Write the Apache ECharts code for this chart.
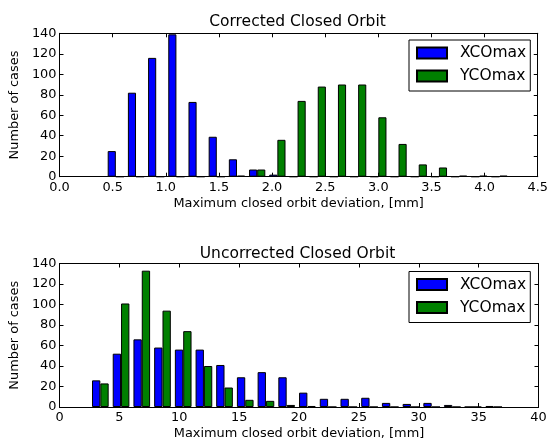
<!DOCTYPE html>
<html>
<head>
<meta charset="utf-8">
<script src="https://cdn.jsdelivr.net/npm/echarts@6/dist/echarts.min.js"></script>
<style>
html,body{margin:0;padding:0;background:#fff;}
#c{width:551px;height:441px;}
</style>
</head>
<body>
<div id="c"></div>
<script>
// ---- data ----
const seriesNames = ['XCOmax', 'YCOmax'];

// Corrected closed orbit (bin centres in mm)
const topBinCenters = [0.53, 0.72, 0.91, 1.10, 1.29, 1.48, 1.67, 1.86, 2.05, 2.24,
                       2.43, 2.62, 2.81, 3.00, 3.19, 3.38, 3.57, 3.76, 3.95, 4.14];
const topXCO = [25, 82, 116, 139, 73, 39, 17, 7, 2, 0, 0, 0, 0, 0, 0, 0, 0, 0, 0, 0];
const topYCO = [0, 0, 0, 0, 0, 0, 1, 7, 36, 74, 88, 90, 90, 58, 32, 12, 9, 1, 1, 1];

// Uncorrected closed orbit (bin centres in mm)
const botBinCenters = [3.41, 5.14, 6.87, 8.60, 10.33, 12.06, 13.78, 15.51, 17.24, 18.97,
                       20.70, 22.43, 24.16, 25.89, 27.62, 29.35, 31.08, 32.80, 34.53, 36.26];
const botXCO = [26, 52, 66, 58, 56, 56, 41, 29, 34, 29, 14, 8, 8, 9, 4, 3, 4, 2, 0, 1];
const botYCO = [23, 101, 133, 94, 74, 40, 19, 7, 6, 2, 1, 0, 0, 0, 0, 0, 0, 0, 0, 0];

const titles = ['Corrected Closed Orbit', 'Uncorrected Closed Orbit'];
const xAxisName = 'Maximum closed orbit deviation, [mm]';
const yAxisName = 'Number of cases';
const topXTicks = {min: 0, max: 4.5, interval: 0.5};
const botXTicks = {min: 0, max: 40, interval: 5};
const yTicks = {min: 0, max: 140, interval: 20};

// ---- chart ----
const FONT = 'DejaVu Sans';
const colors = ['#0000ff', '#008000'];
const chart = echarts.init(document.getElementById('c'), null, {renderer: 'canvas'});

function axisBase(extra) {
  return Object.assign({
    type: 'value',
    axisLine: {show: true, onZero: false, lineStyle: {color: '#000', width: 1}},
    axisTick: {show: true, inside: true, length: 4, lineStyle: {color: '#000', width: 1}},
    splitLine: {show: false},
    axisLabel: {color: '#000', fontSize: 12.9, fontFamily: FONT, showMinLabel: true, showMaxLabel: true}
  }, extra);
}

const grids = [
  {left: 56.5, top: 33.3, width: 482, height: 143.4},
  {left: 56.5, top: 263.5, width: 482, height: 144}
];

const xAxes = [], yAxes = [];
[topXTicks, botXTicks].forEach((t, gi) => {
  xAxes.push(axisBase({
    gridIndex: gi, position: 'bottom', min: t.min, max: t.max, interval: t.interval,
    name: xAxisName, nameLocation: 'middle', nameGap: 20,
    nameTextStyle: {color: '#000', fontSize: 12.9, fontFamily: FONT},
    axisLabel: {color: '#000', fontSize: 12.9, fontFamily: FONT, margin: 4,
      showMinLabel: true, showMaxLabel: true,
      formatter: gi === 0 ? (v => v.toFixed(1)) : (v => String(v))}
  }));
  xAxes.push(axisBase({
    gridIndex: gi, position: 'top', min: t.min, max: t.max, interval: t.interval,
    axisLabel: {show: false}
  }));
  yAxes.push(axisBase({
    gridIndex: gi, position: 'left', min: yTicks.min, max: yTicks.max, interval: yTicks.interval,
    name: yAxisName, nameLocation: 'middle', nameGap: 31,
    nameTextStyle: {color: '#000', fontSize: 12.9, fontFamily: FONT},
    axisLabel: {color: '#000', fontSize: 12.9, fontFamily: FONT, margin: 3,
      showMinLabel: true, showMaxLabel: true}
  }));
  yAxes.push(axisBase({
    gridIndex: gi, position: 'right', min: yTicks.min, max: yTicks.max, interval: yTicks.interval,
    axisLabel: {show: false}
  }));
});

function barSeries(name, centers, values, gi, color, width) {
  return {
    type: 'bar', name: name,
    xAxisIndex: gi * 2, yAxisIndex: gi * 2,
    data: centers.map((c, i) => [c, values[i]]),
    barWidth: width, barGap: '0%',
    itemStyle: {color: color, borderColor: '#000', borderWidth: 1},
    emphasis: {disabled: true},
    animation: false
  };
}

const series = [
  barSeries(seriesNames[0], topBinCenters, topXCO, 0, colors[0], 8.13),
  barSeries(seriesNames[1], topBinCenters, topYCO, 0, colors[1], 8.13),
  barSeries(seriesNames[0], botBinCenters, botXCO, 1, colors[0], 8.33),
  barSeries(seriesNames[1], botBinCenters, botYCO, 1, colors[1], 8.33)
];

function legendAt(top) {
  return {
    orient: 'vertical', left: 409, top: top,
    data: seriesNames,
    itemWidth: 30, itemHeight: 11, itemGap: 7,
    padding: [5, 4, 7, 7],
    borderColor: '#000', borderWidth: 1, backgroundColor: '#fff',
    icon: 'rect',
    selectedMode: false,
    textStyle: {color: '#000', fontSize: 15.5, fontFamily: FONT, padding: [0, 0, 0, 8]}
  };
}

chart.setOption({
  animation: false,
  backgroundColor: '#fff',
  title: [
    {text: titles[0], left: 297.5, top: 14, textAlign: 'center', padding: 0,
     textStyle: {color: '#000', fontSize: 15.5, fontWeight: 'normal', fontFamily: FONT}},
    {text: titles[1], left: 297.5, top: 245.8, textAlign: 'center', padding: 0,
     textStyle: {color: '#000', fontSize: 15.5, fontWeight: 'normal', fontFamily: FONT}}
  ],
  legend: [legendAt(40), legendAt(271.5)],
  grid: grids,
  xAxis: xAxes,
  yAxis: yAxes,
  series: series
});
</script>
</body>
</html>
